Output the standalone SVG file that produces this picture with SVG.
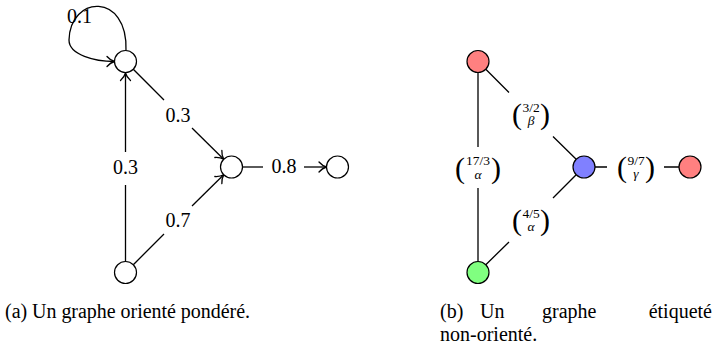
<svg xmlns="http://www.w3.org/2000/svg" width="713" height="359" viewBox="0 0 713 359">
<defs>
<marker id="arr" markerUnits="userSpaceOnUse" markerWidth="14" markerHeight="14" viewBox="-9 -7 11 14" refX="0" refY="0" orient="auto" overflow="visible">
<path d="M-7.5,-5 C-5,-2.2 -2.2,-0.6 0,0 C-2.2,0.6 -5,2.2 -7.5,5" fill="none" stroke="#000" stroke-width="1.3" stroke-linecap="round"/>
</marker>
</defs>

<g id="connectors" stroke="#000" stroke-width="1.3" fill="none">
<path d="M125.5,261.5 V185 M125.5,152 V73" marker-end="url(#arr)"/>
<path d="M133.3,69.3 L164,100"/>
<path d="M192,128 L223.7,159.2" marker-end="url(#arr)"/>
<path d="M133.3,264.7 L164,234"/>
<path d="M192,206 L223.7,174.8" marker-end="url(#arr)"/>
<path d="M242.5,167 H263"/>
<path d="M304,167 H326.5" marker-end="url(#arr)"/>
<path d="M126,50.5 C128,-8 70,-5 69,40 C69,55 95,61.5 114.5,61.5" marker-end="url(#arr)"/>
<path d="M478,72.5 V147 M478,188 V261.5"/>
<path d="M485.8,69.3 L509,92.5 M553,136.5 L576.2,159.2"/>
<path d="M485.8,264.7 L509,242 M553,198 L576.2,174.8"/>
<path d="M595,167 H607 M664,167 H679"/>
</g>

<g id="edge-labels-a" text-anchor="middle">
<text font-family="Liberation Serif" font-size="20" x="79.5" y="23">0.1</text>
<text font-family="Liberation Serif" font-size="20" x="178" y="121.5">0.3</text>
<text font-family="Liberation Serif" font-size="20" x="125.5" y="173.5">0.3</text>
<text font-family="Liberation Serif" font-size="20" x="178" y="226.5">0.7</text>
<text font-family="Liberation Serif" font-size="20" x="284" y="173">0.8</text>
</g>

<g stroke="#000" stroke-width="1.2">
<g id="node-a1"><circle cx="125.5" cy="61.5" r="11" fill="#fff"/></g>
<g id="node-a2"><circle cx="231.5" cy="167" r="11" fill="#fff"/></g>
<g id="node-a3"><circle cx="337.5" cy="167" r="11" fill="#fff"/></g>
<g id="node-a4"><circle cx="125.5" cy="272.5" r="11" fill="#fff"/></g>
<g id="node-b1"><circle cx="478" cy="61.5" r="11" fill="#ff8080"/></g>
<g id="node-b2"><circle cx="584" cy="167" r="11" fill="#8080ff"/></g>
<g id="node-b3"><circle cx="690" cy="167" r="11" fill="#ff8080"/></g>
<g id="node-b4"><circle cx="478" cy="272.5" r="11" fill="#80ff80"/></g>
</g>

<g id="edge-labels-b">
<g transform="translate(478,167.5)">
<text font-family="Liberation Serif" font-size="30" x="-13" y="10" text-anchor="end">(</text><text font-family="Liberation Serif" font-size="30" x="13" y="10">)</text>
<text font-family="Liberation Serif" font-size="13.5" text-anchor="middle" x="0" y="-2.5">17/3</text><text font-family="Liberation Serif" font-size="13.5" font-style="italic" text-anchor="middle" x="0" y="11">α</text>
</g>
<g transform="translate(531,114)">
<text font-family="Liberation Serif" font-size="30" x="-9" y="10" text-anchor="end">(</text><text font-family="Liberation Serif" font-size="30" x="9" y="10">)</text>
<text font-family="Liberation Serif" font-size="13.5" text-anchor="middle" x="0" y="-2.5">3/2</text><text font-family="Liberation Serif" font-size="13.5" font-style="italic" text-anchor="middle" x="0" y="11">β</text>
</g>
<g transform="translate(531,220)">
<text font-family="Liberation Serif" font-size="30" x="-9" y="10" text-anchor="end">(</text><text font-family="Liberation Serif" font-size="30" x="9" y="10">)</text>
<text font-family="Liberation Serif" font-size="13.5" text-anchor="middle" x="0" y="-2.5">4/5</text><text font-family="Liberation Serif" font-size="13.5" font-style="italic" text-anchor="middle" x="0" y="11">α</text>
</g>
<g transform="translate(636,167)">
<text font-family="Liberation Serif" font-size="30" x="-9" y="10" text-anchor="end">(</text><text font-family="Liberation Serif" font-size="30" x="9" y="10">)</text>
<text font-family="Liberation Serif" font-size="13.5" text-anchor="middle" x="0" y="-2.5">9/7</text><text font-family="Liberation Serif" font-size="13.5" font-style="italic" text-anchor="middle" x="0" y="11">γ</text>
</g>
</g>

<g id="captions">
<text font-family="Liberation Serif" font-size="20" x="5" y="318" textLength="245" lengthAdjust="spacing">(a) Un graphe orienté pondéré.</text>
<text font-family="Liberation Serif" font-size="20" x="440" y="318">(b)</text>
<text font-family="Liberation Serif" font-size="20" x="480" y="318">Un</text>
<text font-family="Liberation Serif" font-size="20" x="542" y="318">graphe</text>
<text font-family="Liberation Serif" font-size="20" x="712" y="318" text-anchor="end">étiqueté</text>
<text font-family="Liberation Serif" font-size="20" x="440" y="341">non-orienté.</text>
</g>
</svg>
